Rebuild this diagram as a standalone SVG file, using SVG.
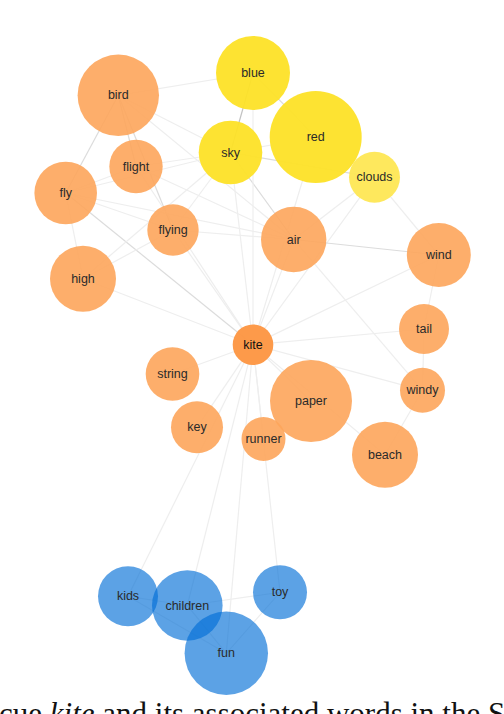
<svg xmlns="http://www.w3.org/2000/svg" width="504" height="714" viewBox="0 0 504 714">
<style>
.e{fill:none;stroke-width:1.2}
.d{stroke:#c2c2c2}
.m{stroke:#dcdcdc}
.l{stroke:#eeeeee}
.o{fill:#fda55b;fill-opacity:0.9}
.k{fill:#fd9540;fill-opacity:0.95}
.y{fill:#fde127;fill-opacity:0.95}
.c{fill:#fee754;fill-opacity:0.95}
.b{fill:#006ed7;fill-opacity:0.64}
text{font-family:"Liberation Sans",Arial,sans-serif;font-size:12.5px;fill:#2a2a2a;text-anchor:middle;dominant-baseline:central}
.cap{font-family:"Liberation Serif","Times New Roman",serif;font-size:31px;fill:#111;text-anchor:start;dominant-baseline:alphabetic}
</style>
<rect width="504" height="714" fill="#fff"/>
<g id="connectors">
<line class="e l" x1="118.3" y1="95.3" x2="253" y2="73"/>
<line class="e m" x1="118.3" y1="95.3" x2="65.7" y2="193"/>
<line class="e m" x1="118.3" y1="95.3" x2="136" y2="166.5"/>
<line class="e m" x1="118.3" y1="95.3" x2="173" y2="230"/>
<line class="e l" x1="118.3" y1="95.3" x2="230.5" y2="152.5"/>
<line class="e l" x1="118.3" y1="95.3" x2="293.7" y2="239.5"/>
<line class="e l" x1="65.7" y1="193" x2="136" y2="166.5"/>
<line class="e l" x1="65.7" y1="193" x2="230.5" y2="152.5"/>
<line class="e l" x1="65.7" y1="193" x2="83" y2="278.7"/>
<line class="e m" x1="65.7" y1="193" x2="253" y2="344.7"/>
<line class="e l" x1="65.7" y1="193" x2="293.7" y2="239.5"/>
<line class="e l" x1="65.7" y1="193" x2="173" y2="230"/>
<line class="e l" x1="136" y1="166.5" x2="230.5" y2="152.5"/>
<line class="e l" x1="136" y1="166.5" x2="293.7" y2="239.5"/>
<line class="e l" x1="136" y1="166.5" x2="253" y2="344.7"/>
<line class="e l" x1="173" y1="230" x2="230.5" y2="152.5"/>
<line class="e l" x1="173" y1="230" x2="293.7" y2="239.5"/>
<line class="e l" x1="173" y1="230" x2="253" y2="344.7"/>
<line class="e l" x1="83" y1="278.7" x2="173" y2="230"/>
<line class="e l" x1="83" y1="278.7" x2="230.5" y2="152.5"/>
<line class="e l" x1="83" y1="278.7" x2="253" y2="344.7"/>
<line class="e d" x1="230.5" y1="152.5" x2="253" y2="73"/>
<line class="e m" x1="230.5" y1="152.5" x2="374.5" y2="177.3"/>
<line class="e l" x1="230.5" y1="152.5" x2="253" y2="344.7"/>
<line class="e m" x1="230.5" y1="152.5" x2="293.7" y2="239.5"/>
<line class="e l" x1="230.5" y1="152.5" x2="315.7" y2="137"/>
<line class="e m" x1="253" y1="73" x2="315.7" y2="137"/>
<line class="e l" x1="253" y1="73" x2="253" y2="344.7"/>
<line class="e l" x1="315.7" y1="137" x2="253" y2="344.7"/>
<line class="e l" x1="374.5" y1="177.3" x2="293.7" y2="239.5"/>
<line class="e l" x1="374.5" y1="177.3" x2="438.8" y2="255"/>
<line class="e l" x1="374.5" y1="177.3" x2="253" y2="344.7"/>
<line class="e m" x1="293.7" y1="239.5" x2="438.8" y2="255"/>
<line class="e l" x1="293.7" y1="239.5" x2="253" y2="344.7"/>
<line class="e l" x1="293.7" y1="239.5" x2="422.5" y2="390.3"/>
<line class="e l" x1="438.8" y1="255" x2="253" y2="344.7"/>
<line class="e l" x1="438.8" y1="255" x2="424" y2="329"/>
<line class="e l" x1="424" y1="329" x2="422.5" y2="390.3"/>
<line class="e l" x1="424" y1="329" x2="253" y2="344.7"/>
<line class="e l" x1="422.5" y1="390.3" x2="253" y2="344.7"/>
<line class="e l" x1="422.5" y1="390.3" x2="385" y2="454.7"/>
<line class="e l" x1="253" y1="344.7" x2="172.5" y2="374"/>
<line class="e l" x1="253" y1="344.7" x2="197" y2="427.3"/>
<line class="e l" x1="253" y1="344.7" x2="263.5" y2="439"/>
<line class="e l" x1="253" y1="344.7" x2="311" y2="401"/>
<line class="e l" x1="253" y1="344.7" x2="385" y2="454.7"/>
<line class="e l" x1="253" y1="344.7" x2="128" y2="596.3"/>
<line class="e l" x1="253" y1="344.7" x2="187.3" y2="605.5"/>
<line class="e l" x1="253" y1="344.7" x2="226.3" y2="653.3"/>
<line class="e l" x1="253" y1="344.7" x2="280" y2="592.3"/>
<line class="e l" x1="128" y1="596.3" x2="187.3" y2="605.5"/>
<line class="e l" x1="128" y1="596.3" x2="226.3" y2="653.3"/>
<line class="e l" x1="187.3" y1="605.5" x2="226.3" y2="653.3"/>
<line class="e l" x1="187.3" y1="605.5" x2="280" y2="592.3"/>
<line class="e l" x1="280" y1="592.3" x2="226.3" y2="653.3"/>
</g>
<g id="node-blue"><circle class="y" cx="253" cy="73" r="37"/><text x="253" y="73">blue</text></g>
<g id="node-red"><circle class="y" cx="315.7" cy="137" r="46"/><text x="315.7" y="137">red</text></g>
<g id="node-sky"><circle class="y" cx="230.5" cy="152.5" r="31.8"/><text x="230.5" y="152.5">sky</text></g>
<g id="node-clouds"><circle class="c" cx="374.5" cy="177.3" r="25.5"/><text x="374.5" y="177.3">clouds</text></g>
<g id="node-air"><circle class="o" cx="293.7" cy="239.5" r="32.7"/><text x="293.7" y="239.5">air</text></g>
<g id="node-wind"><circle class="o" cx="438.8" cy="255" r="32"/><text x="438.8" y="255">wind</text></g>
<g id="node-bird"><circle class="o" cx="118.3" cy="95.3" r="40.7"/><text x="118.3" y="95.3">bird</text></g>
<g id="node-flight"><circle class="o" cx="136" cy="166.5" r="26.7"/><text x="136" y="166.5">flight</text></g>
<g id="node-fly"><circle class="o" cx="65.7" cy="193" r="31.3"/><text x="65.7" y="193">fly</text></g>
<g id="node-flying"><circle class="o" cx="173" cy="230" r="25.7"/><text x="173" y="230">flying</text></g>
<g id="node-high"><circle class="o" cx="83" cy="278.7" r="33"/><text x="83" y="278.7">high</text></g>
<g id="node-kite"><circle class="k" cx="253" cy="344.7" r="20.3"/><text x="253" y="344.7" style="fill:#111">kite</text></g>
<g id="node-tail"><circle class="o" cx="424" cy="329" r="25"/><text x="424" y="329">tail</text></g>
<g id="node-string"><circle class="o" cx="172.5" cy="374" r="26.8"/><text x="172.5" y="374">string</text></g>
<g id="node-windy"><circle class="o" cx="422.5" cy="390.3" r="22.5"/><text x="422.5" y="390.3">windy</text></g>
<g id="node-paper"><circle class="o" cx="311" cy="401" r="41"/><text x="311" y="401">paper</text></g>
<g id="node-key"><circle class="o" cx="197" cy="427.3" r="26"/><text x="197" y="427.3">key</text></g>
<g id="node-runner"><circle class="o" cx="263.5" cy="439" r="22"/><text x="263.5" y="439">runner</text></g>
<g id="node-beach"><circle class="o" cx="385" cy="454.7" r="33"/><text x="385" y="454.7">beach</text></g>
<g id="node-kids"><circle class="b" cx="128" cy="596.3" r="30"/><text x="128" y="596.3">kids</text></g>
<g id="node-children"><circle class="b" cx="187.3" cy="605.5" r="35.3"/><text x="187.3" y="605.5">children</text></g>
<g id="node-toy"><circle class="b" cx="280" cy="592.3" r="27"/><text x="280" y="592.3">toy</text></g>
<g id="node-fun"><circle class="b" cx="226.3" cy="653.3" r="41.7"/><text x="226.3" y="653.3">fun</text></g>
<text class="cap" x="-1" y="724">cue <tspan font-style="italic">kite</tspan> and its associated words in the S</text>
</svg>
